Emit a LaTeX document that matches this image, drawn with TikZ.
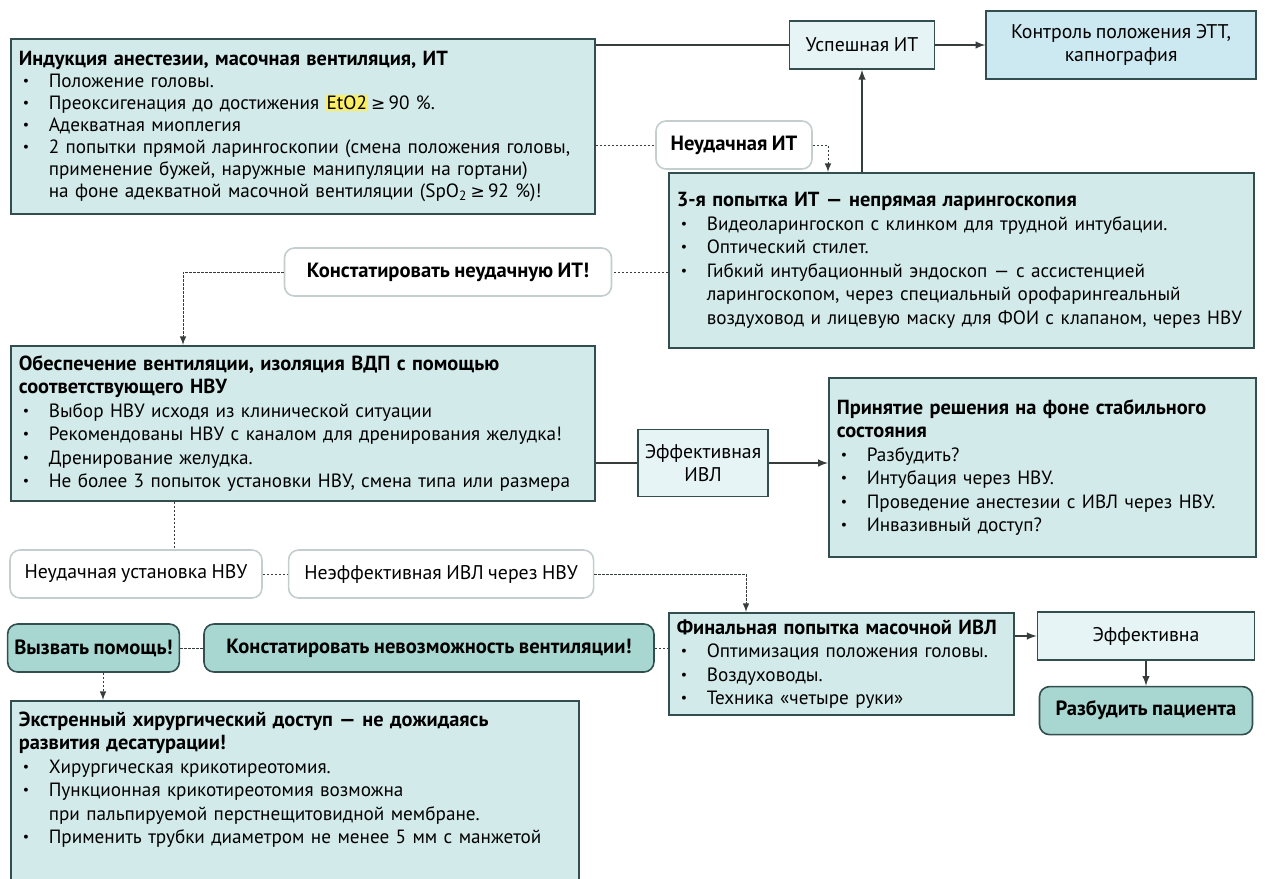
\documentclass[tikz,border=0pt]{standalone}
\usepackage{fontspec}
\setmainfont[WordSpace=0.85]{PT Sans}
\newfontfamily\symfont{DejaVu Sans}
\usetikzlibrary{arrows,positioning}
\setlength{\parindent}{0pt}
\definecolor{boxfill}{RGB}{210,235,234}
\definecolor{boxline}{RGB}{50,78,78}
\definecolor{palefill}{RGB}{230,244,245}
\definecolor{ctrlfill}{RGB}{204,232,240}
\definecolor{alarmfill}{RGB}{168,215,209}
\definecolor{softline}{RGB}{196,206,206}
\definecolor{hilite}{RGB}{250,238,100}
\definecolor{wire}{RGB}{55,60,60}
\newcommand{\bitem}{\par\noindent\hangindent=15pt\hangafter=1\makebox[15pt][l]{\hspace{2pt}\raisebox{0.2ex}{\scriptsize\textbullet}}}
\newcommand{\hd}[1]{{\fontsize{10.2}{11.75}\selectfont\bfseries #1}}
\newcommand{\geqsym}{{\symfont\fontsize{8.5}{10}\selectfont ≥}}
\tikzset{block/.style={rectangle, draw=boxline, fill=boxfill, line width=0.8pt, anchor=north west, align=left, inner xsep=4pt, font=\fontsize{9.6}{11.75}\selectfont}}
\tikzset{tag/.style={rectangle, draw=boxline, fill=palefill, line width=0.8pt, align=center, minimum height=24pt, font=\fontsize{9.9}{11.5}\selectfont}}
\tikzset{soft/.style={rectangle, draw=softline, fill=white, rounded corners=5pt, line width=0.8pt, minimum height=24pt, font=\fontsize{9.9}{11.5}\selectfont}}
\tikzset{alarm/.style={rectangle, draw=boxline, fill=alarmfill, rounded corners=5pt, line width=0.8pt, minimum height=24pt, font=\bfseries\fontsize{10.3}{11.5}\selectfont}}
\tikzset{line/.style={draw=wire, line width=0.7pt}}
\tikzset{arrow/.style={draw=wire, line width=0.7pt, -latex}}
\tikzset{dline/.style={draw=wire, line width=0.5pt, dash pattern=on 1.2pt off 0.8pt}}

\begin{document}
\begin{tikzpicture}[x=0.5pt, y=-0.5pt]
\useasboundingbox (0,0) rectangle (1265,879);
\clip (0,0) rectangle (1265,879);

% first attempts
\node[block, font=\fontsize{9.6}{11}\selectfont, minimum width=292pt, minimum height=87.5pt, text width=284pt] (induct) at (10,38)
  {\hd{Индукция анестезии, масочная вентиляция, ИТ}
   \bitem Положение головы.
   \bitem Преоксигенация до достижения {\fboxsep=0.5pt\colorbox{hilite}{EtO2}}\,\geqsym\,90~\%.
   \bitem Адекватная миоплегия
   \bitem 2 попытки прямой ларингоскопии (смена положения головы,\newline применение бужей, наружные манипуляции на гортани)\newline на фоне адекватной масочной вентиляции (SpO\textsubscript{2}\,\geqsym\,92~\%)!\par};
\node[tag, minimum width=72.5pt]            (okit) at (862,45) {Успешная ИТ};
\node[tag, fill=ctrlfill, minimum width=135pt, minimum height=34pt, right=25pt of okit] (ctrl) {Контроль положения ЭТТ,\\ капнография};
\node[soft, font=\bfseries\fontsize{10.3}{11.5}\selectfont, minimum width=78pt] (failit) at (734,145) {Неудачная ИТ};
\node[block, minimum width=292.5pt, minimum height=87.5pt, text width=284.5pt] (third) at (668,172)
  {\hd{3-я попытка ИТ — непрямая ларингоскопия}
   \bitem Видеоларингоскоп с клинком для трудной интубации.
   \bitem Оптический стилет.
   \bitem Гибкий интубационный эндоскоп — с ассистенцией\newline ларингоскопом, через специальный орофарингеальный\newline воздуховод и лицевую маску для ФОИ с клапаном, через НВУ\par};
\node[soft, font=\bfseries\fontsize{10.3}{11.5}\selectfont, minimum width=163.5pt] (konstit) at (448,272) {Констатировать неудачную ИТ!};

% supraglottic device
\node[block, minimum width=292pt, minimum height=77.5pt, text width=284pt] (vent) at (10,345)
  {\hd{Обеспечение вентиляции, изоляция ВДП с помощью\newline соответствующего НВУ}
   \bitem Выбор НВУ исходя из клинической ситуации
   \bitem Рекомендованы НВУ с каналом для дренирования желудка!
   \bitem Дренирование желудка.
   \bitem Не более 3 попыток установки НВУ, смена типа или размера\par};
\node[tag, minimum width=62pt, minimum height=33.5pt] (effivl) at (703,463) {Эффективная\\ ИВЛ};
\node[block, minimum width=213.5pt, minimum height=89.5pt, text width=205.5pt] (decide) at (828,377)
  {\hd{Принятие решения на фоне стабильного\newline состояния}
   \bitem Разбудить?
   \bitem Интубация через НВУ.
   \bitem Проведение анестезии с ИВЛ через НВУ.
   \bitem Инвазивный доступ?\par};
\node[soft, minimum width=126pt]                        (nvufail) at (136,574) {Неудачная установка НВУ};
\node[soft, minimum width=152.5pt, right=12.5pt of nvufail] (ivlfail) {Неэффективная ИВЛ через НВУ};

% last chance
\node[block, minimum width=172.5pt, minimum height=50pt, text width=164.5pt] (final) at (668,612)
  {\hd{Финальная попытка масочной ИВЛ}
   \bitem Оптимизация положения головы.
   \bitem Воздуховоды.
   \bitem Техника «четыре руки»\par};
\node[tag, minimum width=108.5pt]                    (effok) at (1146,636) {Эффективна};
\node[alarm, minimum width=106.5pt, below=12.5pt of effok] (wake) {Разбудить пациента};
\node[alarm, minimum width=83.5pt]                   (callhelp) at (93.5,648) {Вызвать помощь!};
\node[alarm, minimum width=225pt, right=11.5pt of callhelp] (noventil) {Констатировать невозможность вентиляции!};
\node[block, minimum width=284pt, minimum height=95pt, text width=276pt] (surg) at (10,700)
  {\hd{Экстренный хирургический доступ — не дожидаясь\newline развития десатурации!}
   \bitem Хирургическая крикотиреотомия.
   \bitem Пункционная крикотиреотомия возможна\newline при пальпируемой перстнещитовидной мембране.
   \bitem Применить трубки диаметром не менее 5 мм с манжетой
   \par\nointerlineskip\vbox to 16pt{\vfil}};

\coordinate (failturn)   at (828,145);
\coordinate (ventturn)   at (183,272);
\coordinate (nvudrop)    at (174,520);
\coordinate (finalturn)  at (746,574);
\coordinate (helpdrop)   at (103,680);

\path[line]  (induct.east |- okit.west) -- (okit.west);
\path[arrow] (okit.east) -- (ctrl.west);
\path[dline] (induct.east |- failit.west) -- (failit.west);
\path[dline, -latex] (failit.east) -| (failturn |- third.north);
\path[arrow] (okit.south |- third.north) -- (okit.south);
\path[dline] (third.west |- konstit.east) -- (konstit.east);
\path[dline, -latex] (konstit.west) -| (ventturn |- vent.north);
\path[line]  (vent.east |- effivl.west) -- (effivl.west);
\path[arrow] (effivl.east) -- (effivl.east -| decide.west);
\path[dline] (nvudrop |- vent.south) -- (nvudrop |- nvufail.north);
\path[dline] (nvufail.east) -- (ivlfail.west);
\path[dline, -latex] (ivlfail.east) -| (finalturn |- final.north);
\path[arrow] (final.east |- effok.west) -- (effok.west);
\path[arrow] (effok.south) -- (wake.north);
\path[dline] (callhelp.east) -- (noventil.west);
\path[dline] (noventil.east) -- (noventil.east -| final.west);
\path[dline, -latex] (helpdrop |- callhelp.south) -- (helpdrop |- surg.north);
\end{tikzpicture}
\end{document}
